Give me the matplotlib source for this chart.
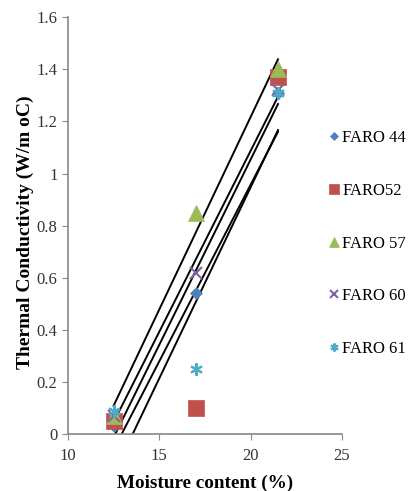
import numpy as np
import matplotlib.pyplot as plt

plt.rcParams['font.family'] = ['Liberation Serif', 'DejaVu Serif']

# moisture content (%) and thermal conductivity for each variety
moisture = [12.5, 17.0, 21.5]
faro44 = [0.03, 0.54, 1.31]
faro52 = [0.05, 0.10, 1.37]
faro57 = [0.07, 0.85, 1.40]
faro60 = [0.07, 0.62, 1.32]
faro61 = [0.09, 0.25, 1.31]

labels = ['FARO 44', 'FARO52', 'FARO 57', 'FARO 60', 'FARO 61']
series = [faro44, faro52, faro57, faro60, faro61]
colors = ['#4F81BD', '#C0504D', '#9BBB59', '#8064A2', '#4BACC6']
markers = ['D', 's', '^', 'x', (6, 2, 0)]
sizes = [6.5, 11, 11, 8, 9]

fig = plt.figure(figsize=(4.09, 4.91), dpi=100)
ax = fig.add_axes([0.166, 0.116, 0.670, 0.849])

x = np.array(moisture)
for y, lab, c, m, s in zip(series, labels, colors, markers, sizes):
    ax.plot(x, y, linestyle='none', marker=m, color=c, markersize=s,
            markeredgewidth=1.5 if m in ('x', (6, 2, 0)) else 0.5,
            label=lab, zorder=3)

# linear trend lines
for y in series:
    k, b = np.polyfit(x, y, 1)
    ax.plot(x[[0, -1]], k * x[[0, -1]] + b, color='black', lw=1.4, zorder=2)

ax.set_xlim(10, 25)
ax.set_ylim(0, 1.6)
ax.set_xticks([10, 15, 20, 25])
ax.set_yticks([0, 0.2, 0.4, 0.6, 0.8, 1, 1.2, 1.4, 1.6])
ax.set_yticklabels(['0', '0.2', '0.4', '0.6', '0.8', '1', '1.2', '1.4', '1.6'])
ax.tick_params(labelsize=12, labelcolor='#333333', length=4, color='#888888')
ax.tick_params(axis='x', pad=6)
for side in ['top', 'right']:
    ax.spines[side].set_visible(False)
for side in ['left', 'bottom']:
    ax.spines[side].set_color('#888888')
    ax.spines[side].set_linewidth(1.2)

ax.set_xlabel('Moisture content (%)', fontsize=13.8, fontweight='bold', labelpad=8)
ax.set_ylabel('Thermal Conductivity (W/m oC)', fontsize=14, fontweight='bold', labelpad=4)
ax.yaxis.set_label_coords(-0.125, 0.485)

fig.legend(loc='center left', bbox_to_anchor=(0.77, 0.504), frameon=False,
           fontsize=12, labelspacing=2.2, handlelength=0.5, handletextpad=0.25,
           markerscale=0.65)

fig.savefig('out.png', dpi=100)
